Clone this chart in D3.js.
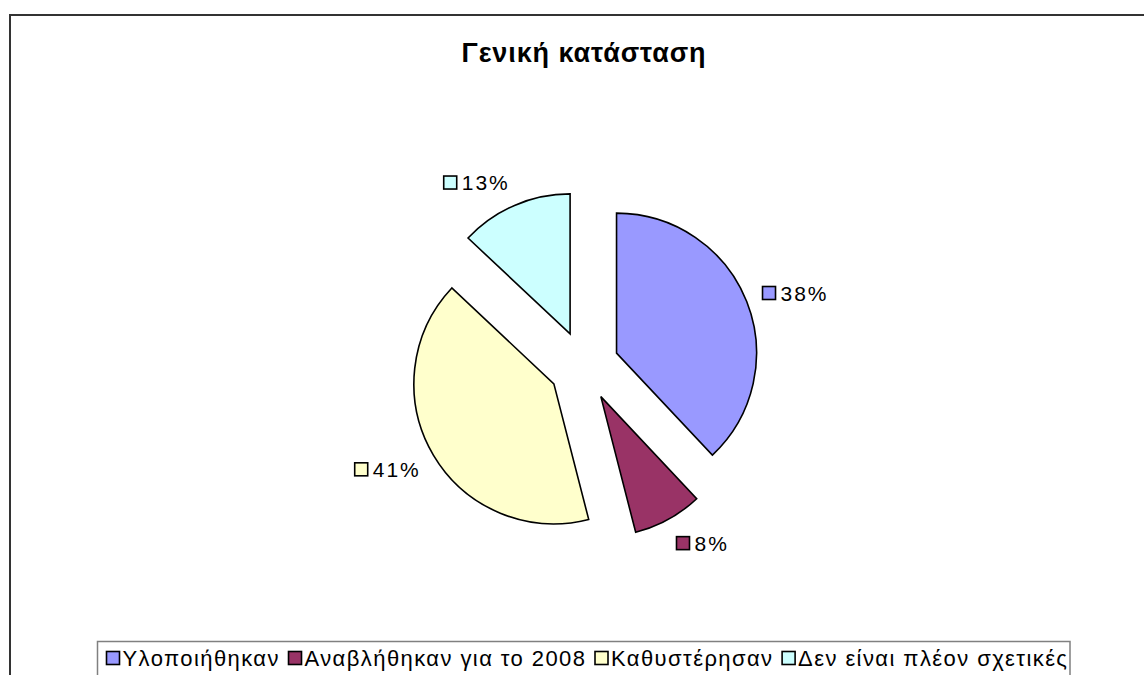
<!DOCTYPE html>
<html><head><meta charset="utf-8">
<script src="https://cdn.jsdelivr.net/npm/d3@7"></script>
<style>
html,body{margin:0;padding:0;background:#fff;}
svg{display:block;font-family:"Liberation Sans",Arial,sans-serif;}
</style></head>
<body><svg id="c" width="1144" height="675"></svg>
<script>
const title = "Γενική κατάσταση";
const categories = ["Υλοποιήθηκαν","Αναβλήθηκαν για το 2008","Καθυστέρησαν","Δεν είναι πλέον σχετικές"];
const values = [38, 8, 41, 13];
const colors = ["#9999FF","#993366","#FFFFCC","#CCFFFF"];

const svg = d3.select("#c");
const cx = 584, cy = 366, R = 140, explode = 35, labelDist = 157;

// outer chart frame (right/bottom edges lie outside the view)
svg.append("rect").attr("x",10).attr("y",15).attr("width",1300).attr("height",800)
  .attr("fill","#fff").attr("stroke","#333").attr("stroke-width",2);

// title
svg.append("text").attr("text-anchor","middle")
  .attr("x",cx).attr("y",62).attr("letter-spacing",0.9)
  .attr("font-size",27).attr("font-weight","bold").attr("fill","#000").text(title);

const total = d3.sum(values);
const pct = d3.format(".0%");
const pie = d3.pie().sort(null).value(d=>d)(values);
const arc = d3.arc().innerRadius(0).outerRadius(R);

const g = svg.append("g").attr("transform",`translate(${cx},${cy})`);
pie.forEach((p,i)=>{
  const mid = (p.startAngle+p.endAngle)/2;
  const dx = explode*Math.sin(mid), dy = -explode*Math.cos(mid);
  g.append("path").attr("d",arc(p)).attr("transform",`translate(${dx},${dy})`)
    .attr("fill",colors[i]).attr("stroke","#000").attr("stroke-width",1.6)
    .attr("stroke-linejoin","miter");
});

// data labels
const ms = 13, fs = 21, lls = 2;
pie.forEach((p,i)=>{
  const mid = (p.startAngle+p.endAngle)/2;
  const s = Math.sin(mid), c = -Math.cos(mid);
  const px = cx + (explode+labelDist)*s, py = cy + (explode+labelDist)*c;
  const lg = svg.append("g");
  const t = lg.append("text").attr("font-size",fs).attr("letter-spacing",lls).attr("fill","#000").text(pct(values[i]/total));
  const tw = t.node().getComputedTextLength() - lls;
  const w = ms + 5 + tw, h = 18;
  const ccx = px + w/2*Math.sign(s), ccy = py + h/2*c + 1;
  const x0 = ccx - w/2;
  lg.insert("rect","text").attr("x",x0).attr("y",ccy-ms/2).attr("width",ms).attr("height",ms)
    .attr("fill",colors[i]).attr("stroke","#000").attr("stroke-width",1.6);
  t.attr("x",x0+ms+5).attr("y",ccy+7.5);
});

// legend
const legLeft = 97.5, legRight = 1070, legTop = 641.5, lgY = 658, legFs = 22;
const padL = 9, padR = 3, mGap = 3, iGap = 10;
const leg = svg.append("g");
const texts = categories.map((cat,i)=>leg.append("text").attr("font-size",legFs).attr("fill","#000").text(cat));
const raw = texts.map(t=>t.node().getComputedTextLength());
const avail = (legRight-legLeft) - padL - padR - categories.length*(ms+mGap) - (categories.length-1)*iGap;
const nChars = d3.sum(categories, c=>c.length - 1);
const ls = Math.max(0, (avail - d3.sum(raw)) / nChars);
svg.insert("rect","g").attr("x",legLeft).attr("y",legTop).attr("width",legRight-legLeft).attr("height",60)
  .attr("fill","#fff").attr("stroke","#808080").attr("stroke-width",1.5);
let x = legLeft + padL;
categories.forEach((cat,i)=>{
  leg.append("rect").attr("x",x).attr("y",lgY-ms/2).attr("width",ms).attr("height",ms)
    .attr("fill",colors[i]).attr("stroke","#000").attr("stroke-width",1.6);
  texts[i].attr("x",x+ms+mGap).attr("y",lgY+8).attr("letter-spacing",ls);
  x += ms + mGap + raw[i] + ls*(cat.length-1) + iGap;
});
</script></body></html>
